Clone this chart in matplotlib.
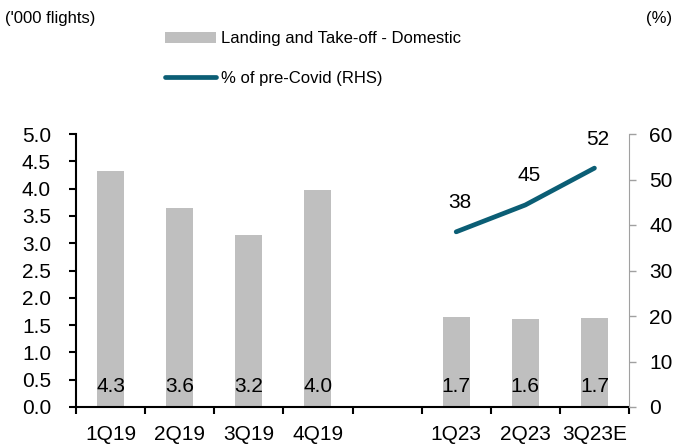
import matplotlib.pyplot as plt
import numpy as np

plt.rcParams['font.family'] = ['Liberation Sans', 'DejaVu Sans']

quarters = ['1Q19', '2Q19', '3Q19', '4Q19', '', '1Q23', '2Q23', '3Q23E']
flights = [4.32, 3.64, 3.15, 3.97, np.nan, 1.65, 1.61, 1.63]
flight_labels = ['4.3', '3.6', '3.2', '4.0', '', '1.7', '1.6', '1.7']
pct_precovid = [np.nan, np.nan, np.nan, np.nan, np.nan, 38.5, 44.4, 52.5]
pct_labels = ['', '', '', '', '', '38', '45', '52']

bar_col = '#bfbfbf'
line_col = '#0b5e75'
fs = 15      # tick / data labels
fs_small = 12  # legend and unit captions (narrow in the original)

fig = plt.figure(figsize=(6.75, 4.46), dpi=100)
ax = fig.add_axes([76 / 675, (446 - 407) / 446, 553 / 675, 273 / 446])
ax2 = ax.twinx()

x = np.arange(len(quarters))
bars = ax.bar(x, flights, width=0.39, color=bar_col, zorder=2,
              label='Landing and Take-off - Domestic')
for xi, lab in zip(x, flight_labels):
    if lab:
        ax.text(xi, 0.37, lab, ha='center', va='center', fontsize=fs)

line, = ax2.plot(x, pct_precovid, color=line_col, lw=3.4,
                 solid_capstyle='round', label='% of pre-Covid (RHS)')
for xi, v, lab in zip(x, pct_precovid, pct_labels):
    if lab:
        ax2.text(xi + 0.05, v + 6.4, lab, ha='center', va='center', fontsize=fs)

ax.set_xlim(-0.5, len(quarters) - 0.5)
ax.set_ylim(0, 5)
ax.set_yticks(np.arange(0, 5.01, 0.5))
ax.set_yticklabels([f'{v:.1f}' for v in np.arange(0, 5.01, 0.5)])
ax2.set_ylim(0, 60)
ax2.set_yticks(np.arange(0, 61, 10))

ax.set_xticks(x)
ax.set_xticklabels(quarters)
ax.set_xticks(np.arange(-0.5, len(quarters), 1), minor=True)
ax.tick_params(axis='x', which='major', length=0, labelsize=fs, pad=13)
ax.tick_params(axis='x', which='minor', length=5, width=1.5, direction='out')
ax.tick_params(axis='y', labelsize=fs, length=5, width=1.5, direction='out', pad=13)
ax2.tick_params(axis='y', labelsize=fs, length=5, width=1, color='#a0a0a0',
                direction='out', pad=9.5)

for a in (ax, ax2):
    a.spines['top'].set_visible(False)
ax.spines['right'].set_visible(False)
ax2.spines['left'].set_visible(False)
ax2.spines['bottom'].set_visible(False)
ax.spines['left'].set_linewidth(1.5)
ax.spines['bottom'].set_linewidth(1.5)
ax2.spines['right'].set_color('#a0a0a0')

fig.text(5 / 675, 1 - 19 / 446, "('000 flights)", fontsize=fs_small, va='center')
fig.text(672 / 675, 1 - 19 / 446, '(%)', fontsize=fs_small, va='center', ha='right')

fig.legend(handles=[bars, line], loc='upper left',
           bbox_to_anchor=(165 / 675, 1 - 31.5 / 446), frameon=False,
           fontsize=fs_small, handlelength=3.05, handleheight=0.66,
           handletextpad=0.3, labelspacing=1.47, borderaxespad=0, borderpad=0)

fig.savefig('out.png', dpi=100)
